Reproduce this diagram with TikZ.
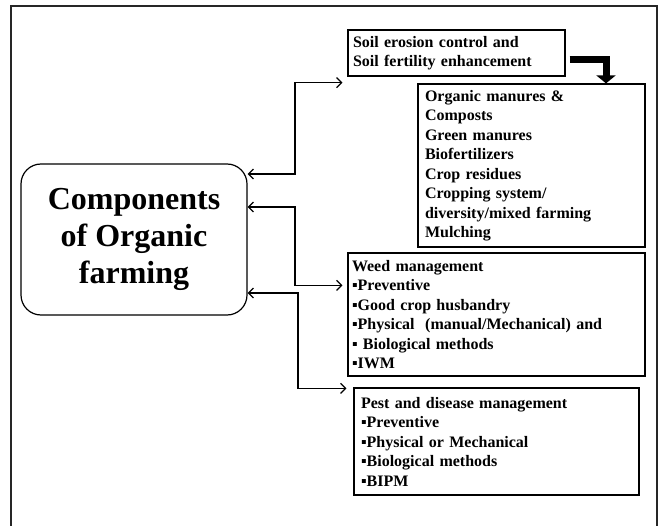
\documentclass[tikz,border=0pt]{standalone}
\usepackage{fontspec}
\setmainfont{Liberation Serif}
\usetikzlibrary{arrows.meta}

\begin{document}
\begin{tikzpicture}[
    x=1pt,
    y=1pt,
    frame/.style={black!85, line width=1.2pt},
    box/.style={draw, line width=1.2pt, align=left, inner xsep=5pt, inner ysep=0pt,
        font=\fontsize{16}{19.5}\selectfont\bfseries},
    mainbox/.style={draw, line width=1.2pt, rounded corners=20pt, align=center,
        font=\fontsize{32}{37}\selectfont\bfseries},
    link/.style={line width=1.2pt,
        {Straight Barb[length=5pt,width=10pt]}-{Straight Barb[length=5pt,width=10pt]}},
    bigarrow/.style={line width=7pt, -{Triangle[length=8pt,width=19pt]}}
]

% =========================================================
% PARAMETRI
% =========================================================

\def\xbend{295}
\def\xbendb{298}

\useasboundingbox (0,0) rectangle (660,525);

% Cornice
\draw[frame] (11,-5) -- (11,519) -- (657,519) -- (657,-5);

% =========================================================
% BLOCCO CENTRALE
% =========================================================

\node[mainbox, minimum width=226, minimum height=151] (comp) at (134,285.5)
{Components\\of Organic\\farming};

% =========================================================
% BLOCCHI A DESTRA
% =========================================================

% Suolo
\node[box, text width=207, minimum height=46] (soil) at (456.5,472)
{Soil erosion control and\\Soil fertility enhancement};

% Concimazione
\node[box, text width=213, inner xsep=7pt, minimum height=163] (organic) at (531.5,359.5)
{Organic manures \&\\Composts\\Green manures\\Biofertilizers\\Crop residues\\
Cropping system/\\diversity/mixed farming\\Mulching};

% Infestanti
\node[box, text width=289, inner xsep=4pt, minimum height=123] (weed) at (496.5,210.5)
{Weed management\\▪Preventive\\▪Good crop husbandry\\
▪Physical~ (manual/Mechanical) and\\▪ Biological methods\\▪IWM};

% Parassiti
\node[box, text width=271, inner xsep=7pt, minimum height=107] (pest) at (496.5,83.5)
{Pest and disease management\\▪Preventive\\▪Physical or Mechanical\\
▪Biological methods\\▪BIPM};

% =========================================================
% COLLEGAMENTI
% =========================================================

% Freccia grossa: suolo -> concimazione
\draw[bigarrow] ([xshift=4pt,yshift=-7pt]soil.east) -| ([xshift=74.5pt]organic.north);

% Frecce doppie
\draw[link] (comp.east |- 0,351) -- (\xbend,351) |- ([xshift=-5pt,yshift=-6pt]soil.south west);
\draw[link] (comp.east |- 0,318) -- (\xbend,318) |- ([xshift=-5pt,yshift=-33pt]weed.north west);
\draw[link] (comp.east |- 0,232) -- (\xbendb,232) |- ([xshift=-7pt,yshift=-1pt]pest.north west);

\end{tikzpicture}
\end{document}
